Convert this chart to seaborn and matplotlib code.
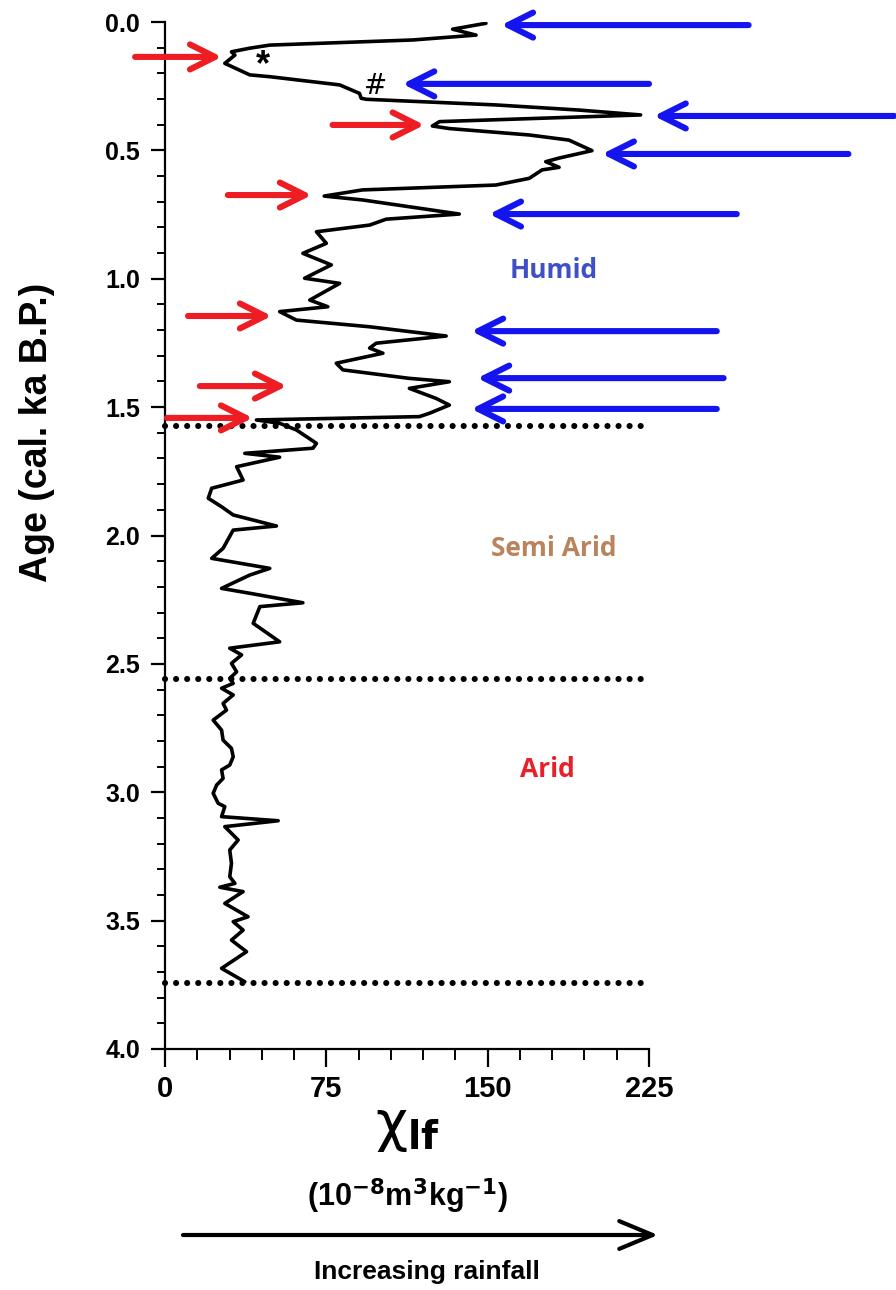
import matplotlib
matplotlib.use("Agg")
import matplotlib.pyplot as plt
import seaborn as sns
import pandas as pd
from matplotlib.ticker import MultipleLocator

# ---------------- data ----------------
chi = [149.2, 133.7, 144.6, 115.2, 48.7, 39.4, 30.9, 32.5, 27.8, 39.4, 48.7, 81.2, 90.4, 91.2, 93.6,
       153.8, 192.5, 221.1, 127.6, 124.3, 132.2, 169.3, 187.8, 198.5, 183.2, 177.0, 183.2, 175.3, 169.3,
       153.8, 91.8, 74.0, 91.8, 136.8, 102.8, 95.1, 70.4, 75.0, 64.1, 77.3, 64.9, 81.2, 67.3, 75.7,
       53.3, 61.1, 95.1, 130.7, 98.2, 95.1, 101.3, 79.6, 82.7, 113.6, 132.2, 113.6, 126.0, 132.2,
       122.9, 118.3, 42.5, 53.3, 61.1, 70.4, 68.8, 37.1, 53.3, 33.3, 36.3, 21.7, 20.1, 26.3, 31.7,
       51.8, 31.7, 27.0, 21.7, 48.7, 39.4, 26.3, 39.4, 64.1, 44.1, 41.0, 53.3, 30.1,
       35.6, 30.9, 33.3, 30.1, 31.7, 26.3, 31.7, 27.0, 28.6, 22.4, 26.3, 27.0, 30.9, 31.7, 30.1,
       26.3, 27.0, 24.0, 22.4, 24.7, 27.8, 26.3, 52.6, 27.8, 34.0, 30.1, 30.9, 30.1, 32.5, 25.5,
       36.3, 27.8, 38.6, 31.7, 36.3, 30.9, 37.9, 26.3, 37.1]
age = [0.005, 0.028, 0.051, 0.070, 0.090, 0.102, 0.116, 0.129, 0.161, 0.206, 0.213, 0.245, 0.278, 0.297, 0.301,
       0.323, 0.343, 0.362, 0.388, 0.405, 0.415, 0.440, 0.460, 0.501, 0.530, 0.544, 0.566, 0.576, 0.609,
       0.635, 0.654, 0.678, 0.693, 0.748, 0.768, 0.791, 0.817, 0.862, 0.901, 0.946, 0.998, 1.018, 1.083, 1.109,
       1.128, 1.161, 1.187, 1.223, 1.251, 1.270, 1.290, 1.329, 1.355, 1.388, 1.401, 1.427, 1.466, 1.492,
       1.524, 1.537, 1.550, 1.563, 1.589, 1.641, 1.660, 1.680, 1.695, 1.732, 1.784, 1.816, 1.855, 1.888, 1.920,
       1.963, 1.979, 2.050, 2.089, 2.128, 2.154, 2.206, 2.225, 2.262, 2.277, 2.342, 2.414, 2.439,
       2.465, 2.498, 2.531, 2.556, 2.576, 2.595, 2.621, 2.654, 2.680, 2.719, 2.758, 2.797, 2.829, 2.862, 2.894,
       2.913, 2.946, 2.972, 3.004, 3.043, 3.056, 3.095, 3.111, 3.134, 3.186, 3.225, 3.277, 3.329, 3.355, 3.370,
       3.387, 3.433, 3.485, 3.504, 3.537, 3.576, 3.621, 3.686, 3.738]

# red (dry) arrows : pointing right
red_age = [0.136, 0.401, 0.674, 1.145, 1.418, 1.542]
red_tail = [-13.9, 77.9, 29.2, 10.7, 16.2, 0.9]
red_tip = [26.4, 120.6, 68.2, 49.6, 56.6, 40.8]

# blue (wet) arrows : pointing left
blue_age = [0.012, 0.241, 0.366, 0.514, 0.748, 1.204, 1.387, 1.507]
blue_tail = [271.3, 225.0, 339.0, 317.7, 265.8, 256.5, 259.7, 256.5]
blue_tip = [156.3, 110.4, 227.3, 203.2, 150.7, 142.4, 145.2, 142.4]

zone_bounds = [1.574, 2.559, 3.743]
zone_names = ["Humid", "Semi Arid", "Arid"]
zone_label_age = [0.966, 2.049, 2.913]
zone_label_chi = [180.9, 180.9, 177.6]
zone_colors = ["#3f4fc6", "#b9845c", "#e8202a"]

y_ticks = [0.0, 0.5, 1.0, 1.5, 2.0, 2.5, 3.0, 3.5, 4.0]
x_ticks = [0, 75, 150, 225]

# ---------------- figure ----------------
sns.set_theme(style="ticks")
plt.rcParams["font.family"] = ["Liberation Sans", "DejaVu Sans"]
plt.rcParams["mathtext.fontset"] = "dejavusans"
plt.rcParams["text.color"] = "black"
plt.rcParams["axes.labelcolor"] = "black"

W, H = 896, 1290
fig = plt.figure(figsize=(W / 100, H / 100), dpi=100)
ax = fig.add_axes([165 / W, 1 - 1049 / H, 484 / W, 1027 / H])

df = pd.DataFrame({"chi": chi, "age": age})
sns.lineplot(data=df, x="chi", y="age", sort=False, estimator=None, color="black",
             lw=2.6, ax=ax, legend=False)

ax.set_xlim(0, 225)
ax.set_ylim(4.0, 0.0)
ax.set_xticks(x_ticks)
ax.set_yticks(y_ticks)
ax.set_yticklabels([f"{v:.1f}" for v in y_ticks])
ax.xaxis.set_minor_locator(MultipleLocator(15))
ax.yaxis.set_minor_locator(MultipleLocator(0.1))
ax.tick_params(axis="x", which="major", length=13, width=1.6, direction="out",
               labelsize=21, pad=6, colors="black")
ax.tick_params(axis="x", which="minor", length=8, width=1.4, direction="out", colors="black")
ax.tick_params(axis="y", which="major", length=10, width=1.6, direction="out",
               labelsize=18, pad=8, colors="black")
ax.tick_params(axis="y", which="minor", length=6, width=1.4, direction="out", colors="black")
for lab in ax.get_xticklabels() + ax.get_yticklabels():
    lab.set_fontweight("bold")
sns.despine(ax=ax)
for s in ("left", "bottom"):
    ax.spines[s].set_linewidth(1.6)
    ax.spines[s].set_color("black")
ax.set_xlabel("")
ax.set_ylabel("Age (cal. ka B.P.)", fontsize=27, fontweight="bold", color="black", va="center")
ax.yaxis.set_label_coords(-0.265, 0.60)

# dotted zone boundaries
for b in zone_bounds:
    ax.plot([0, 222], [b, b], color="black", lw=4.4, linestyle=(0, (0.01, 1.8)),
            dash_capstyle="round", clip_on=False)

# zone labels
for name, a, c, col in zip(zone_names, zone_label_age, zone_label_chi, zone_colors):
    ax.text(c, a, name, color=col, fontsize=19, fontweight="bold", family=["Open Sans", "DejaVu Sans"],
            ha="center", va="center")

# arrows
for a, t0, t1 in zip(red_age, red_tail, red_tip):
    ax.annotate("", xy=(t1, a), xytext=(t0, a),
                arrowprops=dict(arrowstyle="->,head_length=0.9,head_width=0.45", lw=4.4,
                                color="#ee1c23", shrinkA=0, shrinkB=0, mutation_scale=20),
                annotation_clip=False)
for a, t0, t1 in zip(blue_age, blue_tail, blue_tip):
    ax.annotate("", xy=(t1, a), xytext=(t0, a),
                arrowprops=dict(arrowstyle="->,head_length=0.9,head_width=0.45", lw=4.4,
                                color="#1414f0", shrinkA=0, shrinkB=0, mutation_scale=20),
                annotation_clip=False)

# markers * and #
ax.text(45.5, 0.17, "*", fontsize=26, fontweight="bold", ha="center", va="center")
ax.text(98.0, 0.25, "#", fontsize=20, ha="center", va="center", family=["DejaVu Sans"])

# x axis labels
fig.text(408 / W, 1 - 1128 / H, r"$\mathrm{\chi}_{\mathbf{lf}}$", fontsize=40, ha="center", va="center")
fig.text(408 / W, 1 - 1196 / H, r"(10$^{\mathbf{-8}}$m$^{\mathbf{3}}$kg$^{\mathbf{-1}}$)",
         fontsize=22, fontweight="bold", ha="center", va="center")
ax.annotate("", xy=(658 / W, 1 - 1235 / H), xytext=(183 / W, 1 - 1235 / H),
            xycoords="figure fraction", textcoords="figure fraction",
            arrowprops=dict(arrowstyle="->,head_length=1.2,head_width=0.5", lw=3,
                            color="black", shrinkA=0, shrinkB=0, mutation_scale=20),
            annotation_clip=False)
fig.text(427 / W, 1 - 1272 / H, "Increasing rainfall", fontsize=19, fontweight="bold",
         ha="center", va="center")

fig.savefig("out.png", dpi=100, facecolor="white")
